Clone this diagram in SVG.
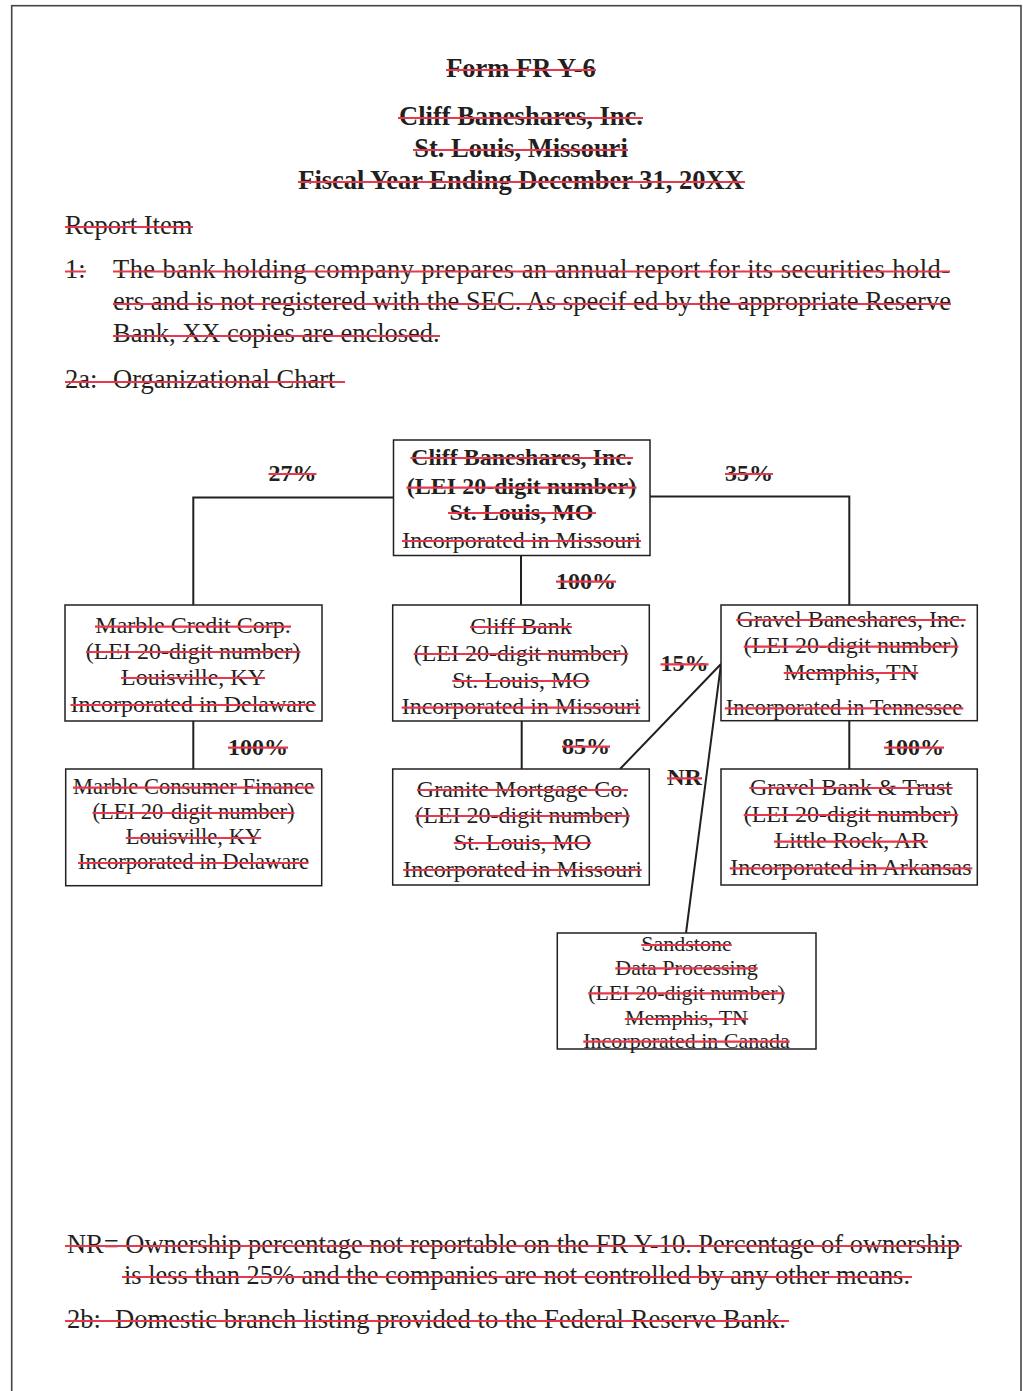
<svg xmlns="http://www.w3.org/2000/svg" width="1023" height="1391" viewBox="0 0 1023 1391">
<style>
.t{font-family:"Liberation Serif","Times New Roman",serif;fill:#231f20}
.b{font-weight:bold}
.c{text-anchor:middle}
.f26{font-size:26.5px}
.f24{font-size:24px}
.f226{font-size:22.6px}
.f22{font-size:22px}
.s{stroke:#e8394d;stroke-width:2.2;fill:none}
.box{fill:#fff;stroke:#231f20;stroke-width:1.5}
.cn{stroke:#231f20;stroke-width:2;fill:none}
</style>
<rect x="0" y="0" width="1023" height="1391" fill="#fff"/>
<rect x="11.7" y="5.7" width="1009.3" height="1400" fill="none" stroke="#444" stroke-width="1.6"/>

<g id="header">
<text class="t b c f26" x="521" y="77">Form FR Y-6</text>
<text class="t b c f26" x="521" y="125">Cliff Baneshares, Inc.</text>
<text class="t b c f26" x="521" y="157">St. Louis, Missouri</text>
<text class="t b c f26" x="521" y="189">Fiscal Year Ending December 31, 20XX</text>
<text class="t f26" x="65" y="234">Report Item</text>
<text class="t f26" x="65" y="278">1:</text>
<text class="t f26" x="113" y="278" textLength="837" lengthAdjust="spacing">The bank holding company prepares an annual report for its securities hold-</text>
<text class="t f26" x="113" y="310" textLength="838" lengthAdjust="spacing">ers and is not registered with the SEC. As specif ed by the appropriate Reserve</text>
<text class="t f26" x="113" y="342">Bank, XX copies are enclosed.</text>
<text class="t f26" x="65" y="388">2a:</text>
<text class="t f26" x="113" y="388">Organizational Chart</text>
<path class="s" d="M446 70H596M398 118H643M413 150H628M298 182H745M65 227H193M65 271.5H86M113 271.5H950M113 304H951M113 336H440M65 382H345"/>
</g>

<g id="connectors">
<path class="cn" d="M393.5 497.5H193.3V605M650 496.5H849.3V605M521 555.5V605M193.3 721V769M521.7 721V769M849.3 721V769M721 664L620 769M721 664L686 933"/>
</g>

<g id="labels">
<text class="t b c f24" x="292.5" y="481">27%</text>
<text class="t b c f24" x="749" y="481">35%</text>
<text class="t b c f24" x="586" y="588.5">100%</text>
<text class="t b c f24" x="258" y="754.5">100%</text>
<text class="t b c f24" x="586" y="753.5">85%</text>
<text class="t b c f24" x="914" y="754.5">100%</text>
<text class="t b c f24" x="684.5" y="671">15%</text>
<text class="t b c f24" x="684.5" y="785">NR</text>
<path class="s" d="M268.5 474H316.5M725 474H773M556 581.7H616M228 747.7H288M562 746.7H610M884 747.7H944M660.5 664.3H708.5M667 778.3H702"/>
</g>

<g id="cliff-baneshares">
<rect class="box" x="393.5" y="440" width="256.5" height="115.5"/>
<text class="t b c f24" x="521.5" y="464.5">Cliff Baneshares, Inc.</text>
<text class="t b c f24" x="521.5" y="494">(LEI 20-digit number)</text>
<text class="t b c f24" x="521.5" y="519.5">St. Louis, MO</text>
<text class="t c f24" x="521.5" y="547.5">Incorporated in Missouri</text>
<path class="s" d="M410.5 458H633M406.5 487.7H636.5M448 513H596M402 541H641"/>
</g>

<g id="marble-credit">
<rect class="box" x="65" y="605" width="257" height="116"/>
<text class="t c f24" x="193" y="633">Marble Credit Corp.</text>
<text class="t c f24" x="193" y="658.5">(LEI 20-digit number)</text>
<text class="t c f24" x="193" y="684.5">Louisville, KY</text>
<text class="t c f24" x="193" y="711.5">Incorporated in Delaware</text>
<path class="s" d="M95 626.7H291M86 652H300.5M121 678H265M70.5 705H316"/>
</g>

<g id="marble-consumer">
<rect class="box" x="65.7" y="769" width="256" height="116.7"/>
<text class="t c f226" x="193.5" y="794">Marble Consumer Finance</text>
<text class="t c f226" x="193.5" y="819">(LEI 20-digit number)</text>
<text class="t c f226" x="193.5" y="844">Louisville, KY</text>
<text class="t c f226" x="193.5" y="869">Incorporated in Delaware</text>
<path class="s" d="M73 787.7H314.5M92.5 813H294.5M125.7 838H261.3M78 863H308.5"/>
</g>

<g id="cliff-bank">
<rect class="box" x="392.7" y="605" width="256.6" height="116"/>
<text class="t c f24" x="521" y="633.5">Cliff Bank</text>
<text class="t c f24" x="521" y="660.5">(LEI 20-digit number)</text>
<text class="t c f24" x="521" y="687.5">St. Louis, MO</text>
<text class="t c f24" x="521" y="714">Incorporated in Missouri</text>
<path class="s" d="M470 627H572M413.7 654H628.3M452.3 681H589.7M401.7 707.7H640.3"/>
</g>

<g id="granite-mortgage">
<rect class="box" x="392.7" y="769" width="256.6" height="116"/>
<text class="t c f24" x="522.5" y="796.5">Granite Mortgage Co.</text>
<text class="t c f24" x="522.5" y="822.5">(LEI 20-digit number)</text>
<text class="t c f24" x="522.5" y="849.5">St. Louis, MO</text>
<text class="t c f24" x="522.5" y="876.5">Incorporated in Missouri</text>
<path class="s" d="M417 790H628M415.2 816H629.8M453.8 843H591.2M403.2 870H641.8"/>
</g>

<g id="gravel-baneshares">
<rect class="box" x="721" y="605" width="256.3" height="115.7"/>
<text class="t c f24" x="851" y="626.5">Gravel Baneshares, Inc.</text>
<text class="t c f24" x="851" y="653">(LEI 20-digit number)</text>
<text class="t c f24" x="851" y="679.5">Memphis, TN</text>
<text class="t c f226" x="844" y="714.5">Incorporated in Tennessee</text>
<path class="s" d="M736.3 620H965.7M743.7 646.7H958.3M783.7 673H918.3M724.8 708.3H963.3"/>
</g>

<g id="gravel-bank">
<rect class="box" x="721" y="769" width="256.3" height="116"/>
<text class="t c f24" x="851" y="794.5">Gravel Bank &amp; Trust</text>
<text class="t c f24" x="851" y="821.5">(LEI 20-digit number)</text>
<text class="t c f24" x="851" y="848">Little Rock, AR</text>
<text class="t c f24" x="851" y="874.5">Incorporated in Arkansas</text>
<path class="s" d="M749.3 788H952.7M743.7 815H958.3M774 841.7H928M729.7 868.3H972.3"/>
</g>

<g id="sandstone">
<rect class="box" x="557.3" y="933" width="258.7" height="116"/>
<text class="t c f22" x="686.5" y="951">Sandstone</text>
<text class="t c f22" x="686.5" y="974.5">Data Processing</text>
<text class="t c f22" x="686.5" y="999.5">(LEI 20-digit number)</text>
<text class="t c f22" x="686.5" y="1025">Memphis, TN</text>
<text class="t c f22" x="686.5" y="1047.5">Incorporated in Canada</text>
<path class="s" d="M641.3 945H731.7M615.3 968.3H757.7M588.2 993.3H784.8M624.8 1019H748.2M583.3 1041.7H789.7"/>
</g>

<g id="footer">
<text class="t f26" x="67" y="1253" textLength="893" lengthAdjust="spacingAndGlyphs">NR= Ownership percentage not reportable on the FR Y-10. Percentage of ownership</text>
<text class="t f26" x="124" y="1284" textLength="786" lengthAdjust="spacingAndGlyphs">is less than 25% and the companies are not controlled by any other means.</text>
<text class="t f26" x="67" y="1328">2b:</text>
<text class="t f26" x="115" y="1328" textLength="671" lengthAdjust="spacingAndGlyphs">Domestic branch listing provided to the Federal Reserve Bank.</text>
<path class="s" d="M65 1246H962M122 1277H912M65 1321H789"/>
</g>
</svg>
